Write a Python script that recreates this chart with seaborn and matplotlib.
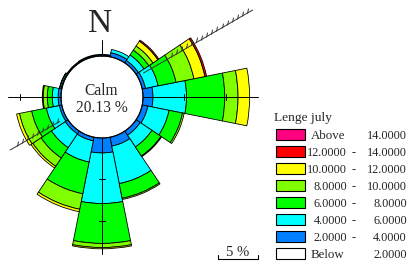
import numpy as np
import matplotlib
matplotlib.use("Agg")
import matplotlib.pyplot as plt
import seaborn as sns
from matplotlib.path import Path
from matplotlib.patches import Rectangle
from matplotlib.lines import Line2D

# wind rose data (percent of hours per direction and speed class)
directions = ["N", "NNE", "NE", "ENE", "E", "ESE", "SE", "SSE",
              "S", "SSW", "SW", "WSW", "W", "WNW", "NW", "NNW"]
bearings = [0, 22.5, 45, 67.5, 90, 112.5, 135, 157.5,
            180, 202.5, 225, 247.5, 270, 292.5, 315, 337.5]
spd_2_4 = [0.10, 0.50, 0.35, 0.40, 1.20, 0.70, 0.60, 1.10, 1.80, 0.45, 0.40, 0.30, 0.35, 0.10, 0.05, 0.10]
spd_4_6 = [0.10, 0.40, 0.80, 1.55, 4.05, 2.60, 1.70, 4.60, 6.10, 2.60, 2.00, 1.60, 0.70, 0.15, 0.10, 0.10]
spd_6_8 = [0.00, 0.00, 0.70, 2.20, 4.60, 1.65, 1.30, 1.80, 4.80, 3.90, 1.50, 1.80, 0.60, 0.05, 0.00, 0.00]
spd_8_10 = [0.00, 0.00, 0.60, 2.20, 1.60, 0.20, 0.10, 0.15, 0.50, 1.90, 1.20, 1.50, 0.50, 0.00, 0.00, 0.00]
spd_10_12 = [0.00, 0.00, 0.70, 1.35, 1.40, 0.00, 0.00, 0.00, 0.15, 0.30, 0.25, 0.35, 0.10, 0.00, 0.00, 0.00]
spd_12_14 = [0.00, 0.00, 0.15, 0.20, 0.00, 0.00, 0.00, 0.00, 0.00, 0.00, 0.00, 0.00, 0.00, 0.00, 0.00, 0.00]
calm_pct = 20.13

band_values = [spd_2_4, spd_4_6, spd_6_8, spd_8_10, spd_10_12, spd_12_14]
band_colors = ["#0080FF", "#00FFFF", "#00FF00", "#80FF00", "#FFFF00", "#FF0000"]

legend_title = "Lenge july"
legend_colors = ["#FF0080", "#FF0000", "#FFFF00", "#80FF00", "#00FF00", "#00FFFF", "#0080FF", "#FFFFFF"]
legend_low = ["Above", "12.0000", "10.0000", "8.0000", "6.0000", "4.0000", "2.0000", "Below"]
legend_high = ["14.0000", "14.0000", "12.0000", "10.0000", "8.0000", "6.0000", "4.0000", "2.0000"]

sns.set_theme(style="white")
plt.rcParams['font.family'] = ['Liberation Serif', 'DejaVu Serif']

W, H = 409, 263
fig = plt.figure(figsize=(W / 100, H / 100), dpi=100)

# polar axes placed so the rose centre sits at (102, 97) px
PX = 8.3           # pixels per percent
CALM_R = 41 / PX   # radius of the calm circle
RMAX = 21.5
cx, cy = 102, 97
R = RMAX * PX
ax = fig.add_axes([(cx - R) / W, (H - cy - R) / H, 2 * R / W, 2 * R / H], projection='polar')
ax.set_theta_zero_location('N')
ax.set_theta_direction(-1)
ax.set_ylim(0, RMAX)
ax.axis('off')

theta = np.radians(bearings)
width = np.radians(22.5)
bottom = np.full(len(directions), CALM_R)
for vals, col in zip(band_values, sns.color_palette(band_colors)):
    vals = np.array(vals)
    m = vals > 0
    ax.bar(theta[m], vals[m], width=width, bottom=bottom[m], color=col,
           edgecolor='black', linewidth=0.6, zorder=2)
    bottom = bottom + vals

# calm circle
tt = np.linspace(0, 2 * np.pi, 361)
ax.plot(tt, np.full_like(tt, CALM_R), color='black', lw=0.8, zorder=3)

# compass axis lines with 5 % ticks
axis_len = {0: 57, 90: 156, 180: 157, 270: 94}
for b, rend in axis_len.items():
    t = np.radians(b)
    ax.plot([t, t], [CALM_R, rend / PX], color='black', lw=0.7, zorder=4, clip_on=False)
    for k in (5, 10):
        r = CALM_R + k
        if r * PX < rend:
            d = 3.5 / (r * PX)
            ax.plot([t - d, t + d], [r, r], color='black', lw=0.7, zorder=4)

# hatched line through the rose
hatch = Path([(0, 0), (0.22, 1)], [Path.MOVETO, Path.LINETO])
for b, r0, r1, h0, h1 in [(60, 48, 174, 80, 172), (240, 49, 106, 52, 104)]:
    t = np.radians(b)
    ax.plot([t, t], [r0 / PX, r1 / PX], color='#333333', lw=0.7, zorder=5, clip_on=False)
    rr = np.arange(h0, h1, 5.8) / PX
    ax.plot(np.full_like(rr, t), rr, ls='none', marker=hatch, ms=7, mew=0.7,
            color='#333333', zorder=5, clip_on=False)

def fx(x):
    return x / W

def fy(y):
    return 1 - y / H

# labels inside the rose
fig.text(fx(100), fy(32), "N", fontsize=24, ha='center', va='baseline')
fig.text(fx(101.5), fy(95), "Calm", fontsize=11.2, ha='center', va='baseline')
fig.text(fx(101.7), fy(111.5), f"{calm_pct:.2f} %", fontsize=11.2, ha='center', va='baseline')

# legend
fs_title, fs_word, fs_num = 9.6, 9.3, 8.8
fig.text(fx(273.5), fy(120.5), legend_title, fontsize=fs_title, ha='left', va='baseline')
for i, (c, lo, hi) in enumerate(zip(legend_colors, legend_low, legend_high)):
    yc = 134.5 + i * 16.95
    fig.add_artist(Rectangle((fx(276), fy(yc + 5.5)), 29 / W, 11 / H, transform=fig.transFigure,
                             facecolor=c, edgecolor='black', lw=0.8))
    yb = fy(yc + 4.5)
    if lo in ("Above", "Below"):
        fig.text(fx(310.7), yb, lo, fontsize=fs_word, ha='left', va='baseline')
    else:
        fig.text(fx(347), yb, lo, fontsize=fs_num, ha='right', va='baseline')
        fig.text(fx(353.3), yb, "-", fontsize=fs_num, ha='center', va='baseline')
    fig.text(fx(406.7), yb, hi, fontsize=fs_num, ha='right', va='baseline')

# scale bar
fig.add_artist(Line2D([fx(218), fx(218), fx(258), fx(258)], [fy(255), fy(259), fy(259), fy(255)],
                      transform=fig.transFigure, color='black', lw=0.8))
fig.text(fx(238), fy(256), "5 %", fontsize=10.5, ha='center', va='baseline')

fig.savefig("out.png", dpi=100)
